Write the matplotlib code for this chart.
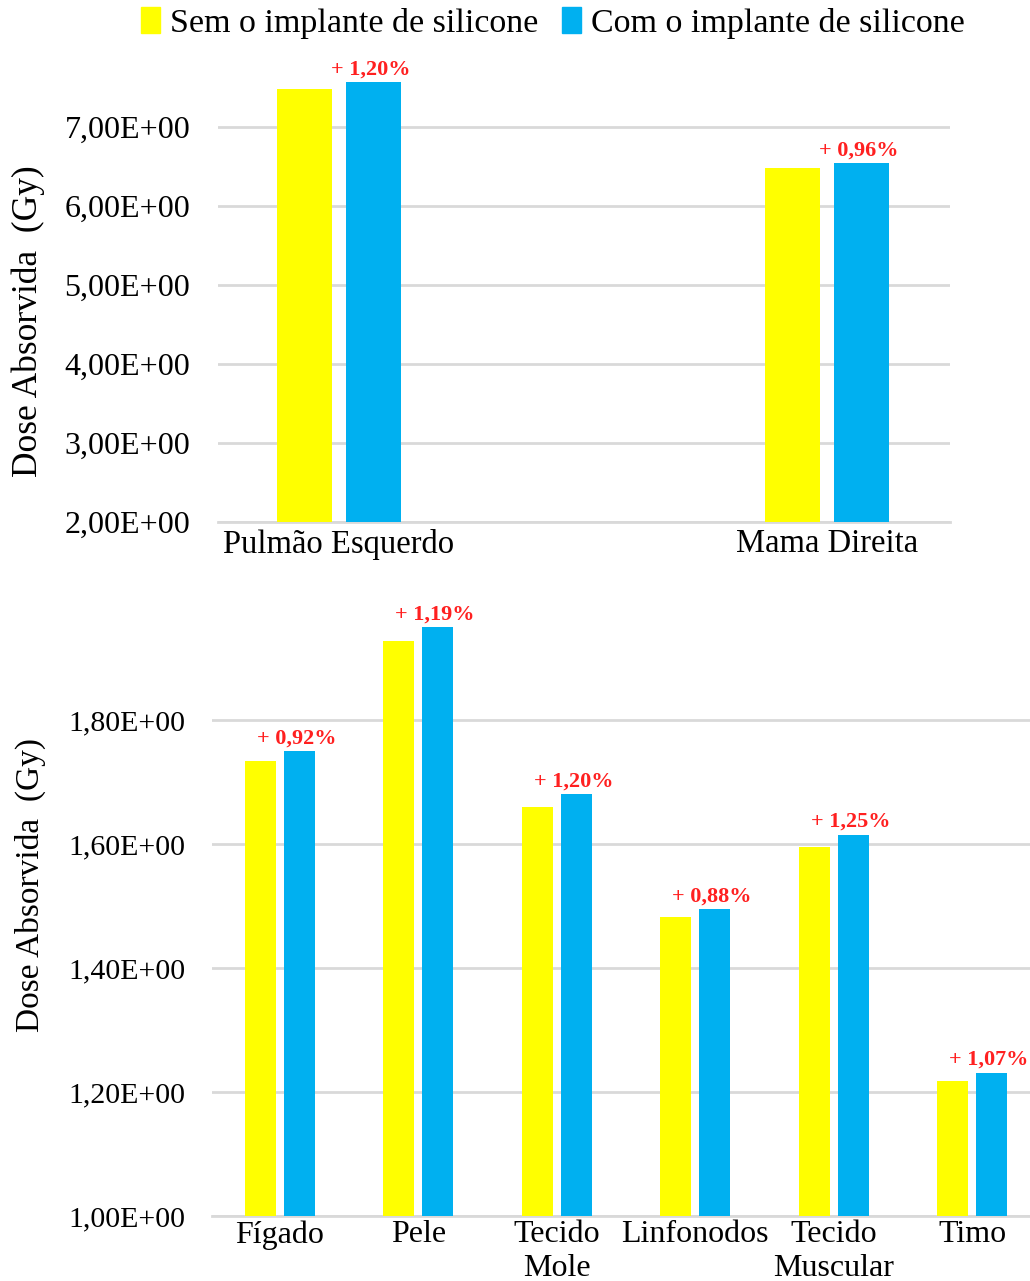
import numpy as np
import matplotlib
matplotlib.use("Agg")
import matplotlib.pyplot as plt
from matplotlib.ticker import FuncFormatter, MultipleLocator
from matplotlib.patches import Patch

plt.rcParams['font.family'] = ['Liberation Serif', 'DejaVu Serif']

YELLOW = "#FFFF00"
BLUE = "#00B0F0"
GRID = "#D9D9D9"

# upper panel: larger organs
top_organs = ["Pulmão Esquerdo", "Mama Direita"]
top_sem = [7.48, 6.48]
top_pct = [1.20, 0.96]

# lower panel: remaining tissues
low_organs = ["Fígado", "Pele", "Tecido\nMole", "Linfonodos", "Tecido\nMuscular", "Timo"]
low_sem = [1.734, 1.927, 1.660, 1.482, 1.595, 1.218]
low_pct = [0.92, 1.19, 1.20, 0.88, 1.25, 1.07]


def sci_comma(v, pos):
    return f"{v:.2E}".replace(".", ",")


def draw_panel(ax, organs, sem, pct, width, offset, ylim, step, xlim,
               pad_x, pad_y, xsize, ysize):
    x = np.arange(len(organs))
    sem = np.array(sem)
    com = sem * (1 + np.array(pct) / 100)
    ax.bar(x - offset, sem, width, color=YELLOW, zorder=3)
    ax.bar(x + offset, com, width, color=BLUE, zorder=3)
    for xi, c, p in zip(x, com, pct):
        ax.annotate(f"+ {p:.2f}%".replace(".", ","), (xi + offset, c),
                    xytext=(-2, 2), textcoords="offset points",
                    ha="center", va="bottom", color="#FF2020",
                    fontsize=16, fontweight="bold", annotation_clip=False)
    ax.set_ylim(*ylim)
    ax.set_xlim(*xlim)
    ax.yaxis.set_major_locator(MultipleLocator(step))
    ax.yaxis.set_major_formatter(FuncFormatter(sci_comma))
    ax.grid(axis="y", color=GRID, linewidth=2, zorder=0)
    for s in ["top", "right", "left"]:
        ax.spines[s].set_visible(False)
    ax.spines["bottom"].set_color(GRID)
    ax.spines["bottom"].set_linewidth(2)
    ax.set_xticks(x)
    ax.set_xticklabels(organs, linespacing=1.2)
    ax.tick_params(axis="both", length=0)
    ax.tick_params(axis="x", pad=pad_x, labelsize=xsize)
    ax.tick_params(axis="y", pad=pad_y, labelsize=ysize)


fig = plt.figure(figsize=(10.30, 12.81), dpi=100)

ax1 = fig.add_axes([0.2117, 0.5925, 0.7106, 0.3638])
draw_panel(ax1, top_organs, top_sem, top_pct, width=0.113, offset=0.071,
           ylim=(2, 7.9), step=1, xlim=(-0.248, 1.252), pad_x=5, pad_y=20,
           xsize=23.5, ysize=23)

ax2 = fig.add_axes([0.2058, 0.0507, 0.7942, 0.4744])
draw_panel(ax2, low_organs, low_sem, low_pct, width=0.224, offset=0.141,
           ylim=(1, 1.98), step=0.2, xlim=(-0.491, 5.419), pad_x=3, pad_y=19,
           xsize=23, ysize=21.5)

fig.text(28 / 1030, 1 - 321 / 1281, "Dose Absorvida  (Gy)", rotation=90,
         ha="center", va="center", fontsize=25.5)
fig.text(30 / 1030, 1 - 885 / 1281, "Dose Absorvida  (Gy)", rotation=90,
         ha="center", va="center", fontsize=24)

handles = [Patch(color=YELLOW), Patch(color=BLUE)]
fig.legend(handles, ["Sem o implante de silicone", "Com o implante de silicone"],
           loc="center", bbox_to_anchor=(553 / 1030, 1 - 23 / 1281), ncol=2,
           frameon=False, fontsize=24.5, handlelength=0.55, handleheight=0.8,
           handletextpad=0.3, columnspacing=0.7, borderpad=0)

fig.savefig("out.png", dpi=100)
